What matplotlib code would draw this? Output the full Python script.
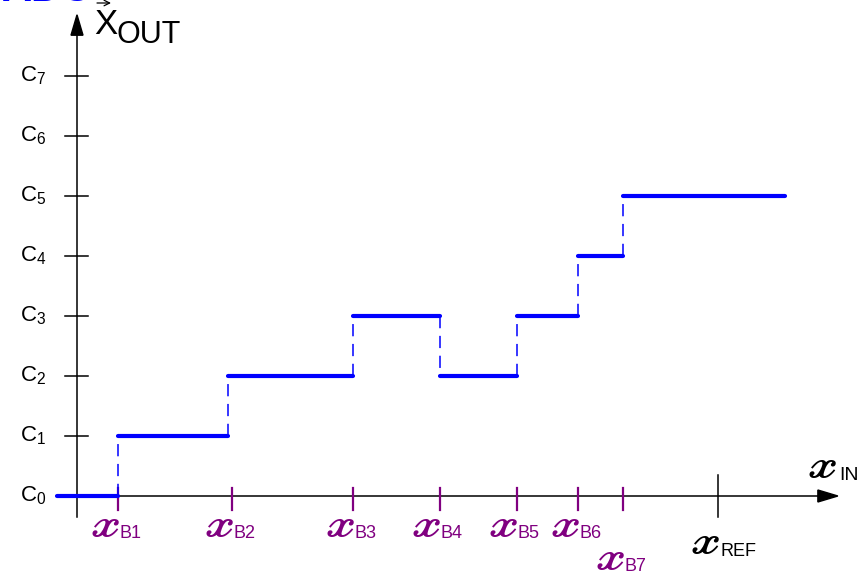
import numpy as np
import matplotlib.pyplot as plt
from matplotlib.patches import Polygon

# output codes C0..C7
code_names = ['0', '1', '2', '3', '4', '5', '6', '7']
code_levels = np.arange(8)

# decision thresholds on the input axis (x_REF = 1)
break_names = ['B1', 'B2', 'B3', 'B4', 'B5', 'B6', 'B7']
break_x = [0.064, 0.242, 0.431, 0.566, 0.686, 0.782, 0.852]
x_ref = 1.0

# transfer characteristic: edges of each flat step and its output code
step_edges = [-0.031, 0.064, 0.236, 0.431, 0.566, 0.686, 0.782, 0.852, 1.105]
step_levels = [0, 1, 2, 3, 2, 3, 4, 5]

blue = '#0000ff'
purple = '#800080'
sans = 'Liberation Sans'
script_font = ['STIXGeneral', 'DejaVu Sans']
XS = '\U0001D501'  # bold script small x
plt.rcParams['mathtext.fontset'] = 'custom'
plt.rcParams['mathtext.rm'] = sans
plt.rcParams['mathtext.it'] = sans

fig = plt.figure(figsize=(8.68, 5.79), dpi=100)
ax = fig.add_axes([0, 0, 1, 1])
ax.set_xlim(-77 / 641, 791 / 641)
ax.set_ylim(-83 / 60, 496 / 60)
ax.axis('off')

dx = 1 / 641  # one pixel along the input axis
dy = 1 / 60   # one pixel along the code axis

# axes with arrow heads
ax.plot([0, 0], [-21 * dy, 7.75], color='black', lw=1.1, zorder=2)
ax.add_patch(Polygon([[-6 * dx, 7.68], [6 * dx, 7.68], [0, 8.02]],
                     closed=True, color='black', zorder=2))
x_end = 1.187
ax.plot([0, x_end - 15 * dx], [0, 0], color='black', lw=1.1, zorder=2)
ax.add_patch(Polygon([[x_end - 20 * dx, 6 * dy], [x_end - 20 * dx, -6 * dy], [x_end, 0]],
                     closed=True, color='black', zorder=2))

# code ticks and labels
for lvl, name in zip(code_levels, code_names):
    if lvl > 0:
        ax.plot([-12 * dx, 11 * dx], [lvl, lvl], color='black', lw=1.1)
    ax.text(-31 * dx, lvl, 'C$_{%s}$' % name, fontsize=16, family=sans,
            ha='right', va='center')

# input thresholds
for i, (bx, name) in enumerate(zip(break_x, break_names)):
    ax.plot([bx, bx], [-14 * dy, 8 * dy], color=purple, lw=1.6)
    low = 33 * dy if i == len(break_x) - 1 else 0
    ax.text(bx + 3 * dx, -41 * dy - low, XS, color=purple, fontsize=28,
            family=script_font, ha='right', va='baseline')
    ax.text(bx + 1 * dx, -42 * dy - low, name, color=purple, fontsize=13,
            family=sans, ha='left', va='baseline')

ax.plot([x_ref, x_ref], [-21 * dy, 21 * dy], color='black', lw=1.1)
ax.text(x_ref + 3 * dx, -58 * dy, XS, color='black', fontsize=28,
        family=script_font, ha='right', va='baseline')
ax.text(x_ref + 3 * dx, -60 * dy, 'REF', color='black', fontsize=13,
        family=sans, ha='left', va='baseline')

# transfer curve
for i, lvl in enumerate(step_levels):
    ax.plot([step_edges[i], step_edges[i + 1]], [lvl, lvl], color=blue, lw=3,
            solid_capstyle='round', zorder=3)
for i in range(1, len(step_levels)):
    ax.plot([step_edges[i]] * 2, [step_levels[i - 1], step_levels[i]],
            color=blue, lw=1.1, dashes=(8, 5), zorder=3)

# axis names
ax.text(x_end + 1 * dx, 18 * dy, XS, color='black', fontsize=28,
        family=script_font, ha='right', va='baseline')
ax.text(x_end + 1 * dx, 16 * dy, 'IN', color='black', fontsize=14,
        family=sans, ha='left', va='baseline')

ax.text(17 * dx, 462 * dy, 'X', color='black', fontsize=25,
        family=sans, ha='left', va='baseline')
ax.text(40 * dx, 453 * dy, 'OUT', color='black', fontsize=22,
        family=sans, ha='left', va='baseline')
ax.annotate('', xy=(34 * dx, 493 * dy), xytext=(20 * dx, 493 * dy),
            arrowprops=dict(arrowstyle='->', color='black', lw=0.9,
                            shrinkA=0, shrinkB=0))

# heading above, cut by the top edge
ax.text(-75 * dx, 495 * dy, 'ADC', color=blue, fontsize=30,
        family=sans, weight='bold', ha='left', va='baseline')

fig.savefig('out.png', dpi=100)
